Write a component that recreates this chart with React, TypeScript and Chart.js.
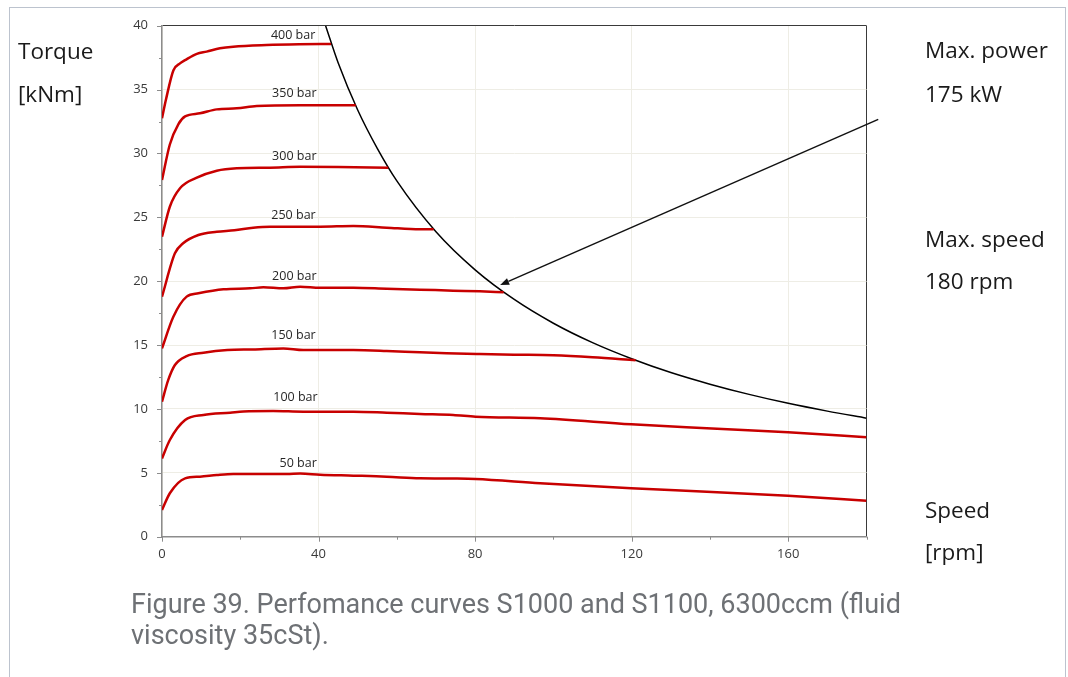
import React, { useEffect, useRef } from "react";
import { Chart, registerables } from "chart.js";

Chart.register(...registerables);

// ---- data (speed in rpm, torque in kNm) ----
const PRESSURE_LABELS = ["400 bar", "350 bar", "300 bar", "250 bar", "200 bar", "150 bar", "100 bar", "50 bar"];

const SPEED_400 = [0, 1.0, 2.9, 4.6, 5.9, 8.9, 11.4, 14.8, 18.2, 26.7, 35, 43.2];
const TORQUE_400 = [32.75, 34.2, 36.5, 37.05, 37.3, 37.8, 37.97, 38.23, 38.36, 38.49, 38.55, 38.57];

const SPEED_350 = [0, 2.0, 4.2, 5.9, 9.7, 14.0, 19.1, 24.2, 35.3, 49.5];
const TORQUE_350 = [27.92, 30.7, 32.3, 32.9, 33.14, 33.45, 33.53, 33.71, 33.77, 33.77];

const SPEED_300 = [0, 2.0, 4.6, 8.9, 14.0, 19.1, 27.6, 35.3, 45, 57.8];
const TORQUE_300 = [23.48, 25.83, 27.27, 28.1, 28.65, 28.84, 28.89, 28.96, 28.94, 28.88];

const SPEED_250 = [0, 3.3, 5.4, 9.3, 14.0, 18.5, 23.3, 27.6, 31.9, 40.4, 48.9, 57.4, 65.9, 69.4];
const TORQUE_250 = [18.79, 22.18, 22.97, 23.62, 23.87, 23.98, 24.19, 24.27, 24.27, 24.27, 24.32, 24.19, 24.06, 24.06];

const SPEED_200 = [0, 2.9, 6.3, 9.3, 15.7, 22.5, 25.9, 31, 35.3, 40.4, 48.9, 57.4, 65.9, 74.4, 81.2, 87.3];
const TORQUE_200 = [14.74, 17.22, 18.79, 19.05, 19.37, 19.44, 19.52, 19.44, 19.57, 19.49, 19.49, 19.41, 19.34, 19.26, 19.21, 19.13];

const SPEED_150 = [0, 1.6, 3.3, 6.3, 10.6, 16.7, 23.3, 31, 36.1, 48.9, 57.4, 65.9, 72.7, 81.2, 90, 100, 110, 121];
const TORQUE_150 = [10.57, 12.27, 13.44, 14.14, 14.4, 14.61, 14.66, 14.74, 14.61, 14.61, 14.54, 14.43, 14.36, 14.3, 14.25, 14.2, 14.05, 13.82];

const SPEED_100 = [0, 2.0, 5.9, 10.6, 17.4, 20.8, 28.4, 36.1, 48.9, 57.4, 65.9, 74.4, 80.1, 96.6, 119.9, 139.2, 160, 180];
const TORQUE_100 = [6.13, 7.57, 9.13, 9.53, 9.71, 9.81, 9.84, 9.79, 9.79, 9.71, 9.61, 9.53, 9.39, 9.27, 8.8, 8.49, 8.17, 7.78];

const SPEED_50 = [0, 2.0, 5.9, 9.7, 14.0, 18.2, 27.6, 31.9, 35.3, 40.4, 48.9, 57.4, 65.9, 74.4, 80.1, 96.6, 119.9, 139.2, 160, 180];
const TORQUE_50 = [2.09, 3.4, 4.57, 4.7, 4.83, 4.91, 4.91, 4.9, 4.94, 4.85, 4.78, 4.7, 4.57, 4.55, 4.52, 4.18, 3.79, 3.52, 3.21, 2.82];

// max power limit curve (175 kW)
const SPEED_POWER = [41.8, 45, 50, 55, 60, 70, 80, 90, 100, 110, 120, 130, 140, 150, 160, 170, 180];
const TORQUE_POWER = [40, 37.1, 33.4, 30.4, 27.85, 23.87, 20.89, 18.57, 16.71, 15.19, 13.93, 12.85, 11.94, 11.14, 10.44, 9.83, 9.28];

// curve label anchors (speed, torque)
const LABEL_SPEED = [33.5, 33.8, 33.8, 33.6, 33.8, 33.6, 34.1, 34.8];
const LABEL_TORQUE = [39.2, 34.7, 29.8, 25.18, 20.35, 15.76, 10.91, 5.74];

// annotation arrow (speed, torque)
const ARROW_FROM = [183, 32.67];
const ARROW_TO = [86.4, 19.7];

const SPEEDS = [SPEED_400, SPEED_350, SPEED_300, SPEED_250, SPEED_200, SPEED_150, SPEED_100, SPEED_50];
const TORQUES = [TORQUE_400, TORQUE_350, TORQUE_300, TORQUE_250, TORQUE_200, TORQUE_150, TORQUE_100, TORQUE_50];

const RED = "#c80000";
const GRID = "#eeede5";
const AXIS = "#8c8c8c";
const FRAME = "#3a3a3a";

const overlayPlugin = {
  id: "overlay",
  afterDatasetsDraw(chart: any) {
    const { ctx, chartArea } = chart;
    const x = chart.scales.x;
    const y = chart.scales.y;
    ctx.save();
    // tick marks
    ctx.strokeStyle = AXIS;
    ctx.lineWidth = 1;
    x.ticks.forEach((t: any) => {
      const px = Math.round(x.getPixelForValue(t.value)) + 0.5;
      const len = t.value % 40 === 0 ? 5 : 3;
      ctx.beginPath();
      ctx.moveTo(px, chartArea.bottom);
      ctx.lineTo(px, chartArea.bottom + len);
      ctx.stroke();
    });
    y.ticks.forEach((t: any) => {
      const py = Math.round(y.getPixelForValue(t.value)) + 0.5;
      const len = t.value % 5 === 0 ? 5 : 3;
      ctx.beginPath();
      ctx.moveTo(chartArea.left, py);
      ctx.lineTo(chartArea.left - len, py);
      ctx.stroke();
    });
    // curve labels
    ctx.font = '12.5px "Open Sans"';
    ctx.fillStyle = "#262626";
    ctx.textAlign = "center";
    ctx.textBaseline = "middle";
    PRESSURE_LABELS.forEach((name, i) => {
      ctx.fillText(name, x.getPixelForValue(LABEL_SPEED[i]), y.getPixelForValue(LABEL_TORQUE[i]));
    });
    // arrow
    const x0 = x.getPixelForValue(ARROW_FROM[0]);
    const y0 = y.getPixelForValue(ARROW_FROM[1]);
    const x1 = x.getPixelForValue(ARROW_TO[0]);
    const y1 = y.getPixelForValue(ARROW_TO[1]);
    const ang = Math.atan2(y1 - y0, x1 - x0);
    const headLen = 9;
    const headW = 3.5;
    const bx = x1 - headLen * Math.cos(ang);
    const by = y1 - headLen * Math.sin(ang);
    ctx.strokeStyle = "#111";
    ctx.lineWidth = 1.5;
    ctx.beginPath();
    ctx.moveTo(x0, y0);
    ctx.lineTo(bx, by);
    ctx.stroke();
    ctx.fillStyle = "#111";
    ctx.beginPath();
    ctx.moveTo(x1, y1);
    ctx.lineTo(bx + headW * Math.sin(ang), by - headW * Math.cos(ang));
    ctx.lineTo(bx - headW * Math.sin(ang), by + headW * Math.cos(ang));
    ctx.closePath();
    ctx.fill();
    ctx.restore();
  },
};

const sideText: React.CSSProperties = {
  position: "absolute",
  fontFamily: '"Open Sans", sans-serif',
  fontSize: 22.5,
  lineHeight: "22px",
  color: "#1a1a1a",
  whiteSpace: "nowrap",
};

export default function App() {
  const canvasRef = useRef<HTMLCanvasElement | null>(null);

  useEffect(() => {
    let chart: Chart | null = null;
    let cancelled = false;
    const build = () => {
      if (cancelled || !canvasRef.current) return;
      const datasets: any[] = PRESSURE_LABELS.map((name, i) => ({
        label: name,
        data: SPEEDS[i].map((s, k) => ({ x: s, y: TORQUES[i][k] })),
        borderColor: RED,
        borderWidth: 2.5,
        pointRadius: 0,
        cubicInterpolationMode: "monotone",
        fill: false,
      }));
      datasets.push({
        label: "Max. power",
        data: SPEED_POWER.map((s, k) => ({ x: s, y: TORQUE_POWER[k] })),
        borderColor: "#000",
        borderWidth: 1.5,
        pointRadius: 0,
        cubicInterpolationMode: "monotone",
        fill: false,
      });
      chart = new Chart(canvasRef.current, {
        type: "line",
        data: { datasets },
        plugins: [overlayPlugin],
        options: {
          animation: false,
          responsive: false,
          devicePixelRatio: 1,
          layout: { padding: { left: 122, right: 201.5, top: 25.7, bottom: 110.3 } },
          plugins: { legend: { display: false }, tooltip: { enabled: false }, title: { display: false } },
          scales: {
            x: {
              type: "linear",
              min: 0,
              max: 180,
              afterFit: (s: any) => {
                s.height = 30;
              },
              ticks: {
                stepSize: 20,
                autoSkip: false,
                maxRotation: 0,
                padding: 10,
                color: "#3a3a3a",
                font: { family: '"Open Sans"', size: 13 },
                callback: (v: any) => (Number(v) % 40 === 0 ? String(v) : ""),
              },
              grid: {
                drawTicks: false,
                lineWidth: 1,
                color: (c: any) =>
                  c.tick && c.tick.value === 180 ? FRAME : c.tick && c.tick.value % 40 === 0 ? GRID : "rgba(0,0,0,0)",
              },
              border: { display: true, color: AXIS, width: 1.5 },
            },
            y: {
              type: "linear",
              min: 0,
              max: 40,
              afterFit: (s: any) => {
                s.width = 40;
              },
              ticks: {
                stepSize: 2.5,
                autoSkip: false,
                padding: 14,
                color: "#3a3a3a",
                font: { family: '"Open Sans"', size: 13 },
                callback: (v: any) => (Number(v) % 5 === 0 ? String(v) : ""),
              },
              grid: {
                drawTicks: false,
                lineWidth: 1,
                color: (c: any) =>
                  c.tick && c.tick.value === 40 ? FRAME : c.tick && c.tick.value % 5 === 0 ? GRID : "rgba(0,0,0,0)",
              },
              border: { display: true, color: AXIS, width: 1.5 },
            },
          },
        },
      } as any);
    };
    const fontsReady = (document as any).fonts
      ? Promise.all([
          (document as any).fonts.load('13px "Open Sans"'),
          (document as any).fonts.load('22px "Open Sans"'),
          (document as any).fonts.load('27px "Roboto"'),
        ]).catch(() => null)
      : Promise.resolve(null);
    fontsReady.then(build);
    return () => {
      cancelled = true;
      if (chart) chart.destroy();
    };
  }, []);

  return (
    <div style={{ position: "fixed", left: 0, top: 0, width: 1068, height: 677, overflow: "hidden", background: "#fff" }}>
      <div
        style={{
          position: "absolute",
          left: 9,
          top: 7,
          width: 1057,
          height: 700,
          borderTop: "1px solid #bcc3ce",
          borderLeft: "1px solid #bcc3ce",
          borderRight: "1px solid #bcc3ce",
          boxSizing: "border-box",
        }}
      />
      <canvas ref={canvasRef} width={1068} height={677} style={{ position: "absolute", left: 0, top: 0, width: 1068, height: 677 }} />
      <div style={{ ...sideText, left: 18, top: 39.5 }}>Torque</div>
      <div style={{ ...sideText, left: 18, top: 83 }}>[kNm]</div>
      <div style={{ ...sideText, left: 925, top: 39 }}>Max. power</div>
      <div style={{ ...sideText, left: 925, top: 83 }}>175 kW</div>
      <div style={{ ...sideText, left: 925, top: 227.5 }}>Max. speed</div>
      <div style={{ ...sideText, left: 925, top: 269.5 }}>180 rpm</div>
      <div style={{ ...sideText, left: 925, top: 499 }}>Speed</div>
      <div style={{ ...sideText, left: 925, top: 541 }}>[rpm]</div>
      <div
        style={{
          position: "absolute",
          left: 131,
          top: 589,
          width: 800,
          fontFamily: "Roboto, sans-serif",
          fontSize: 27,
          lineHeight: "31px",
          color: "#6e7175",
        }}
      >
        Figure 39. Perfomance curves S1000 and S1100, 6300ccm (fluid
        <br />
        viscosity 35cSt).
      </div>
    </div>
  );
}
